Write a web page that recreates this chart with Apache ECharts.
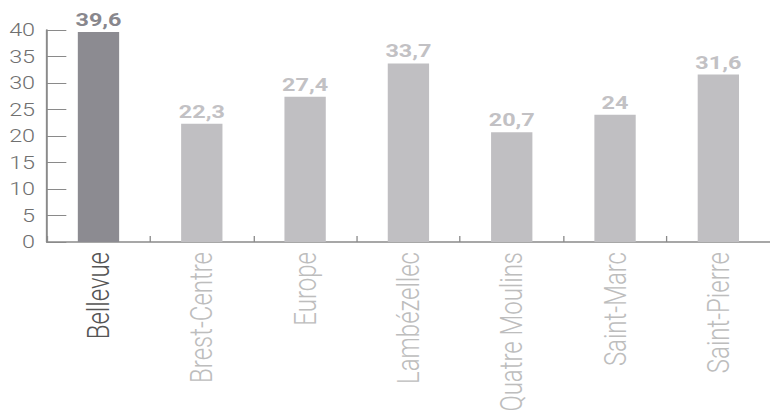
<!DOCTYPE html>
<html><head><meta charset="utf-8">
<script src="https://cdn.jsdelivr.net/npm/echarts@6/dist/echarts.min.js"></script>
<style>html,body{margin:0;padding:0;background:#fff;overflow:hidden}
#c{width:592px;height:416px;transform:scaleX(1.3007);transform-origin:0 0}</style>
</head><body><div id="c"></div>
<script>
const categories = ["Bellevue","Brest-Centre","Europe","Lambézellec","Quatre Moulins","Saint-Marc","Saint-Pierre"];
const values = [39.6,22.3,27.4,33.7,20.7,24,31.6];
const highlight = "Bellevue";

const chart = echarts.init(document.getElementById('c'), null, {renderer:'svg'});
const fmt = v => String(v).replace('.', ',');
chart.setOption({
  animation:false,
  grid:{left:36,right:-2.5,top:30,bottom:174,containLabel:false},
  xAxis:{
    type:'category', data:categories,
    axisLine:{lineStyle:{color:'#8a8a8a',width:1.5}},
    axisTick:{show:true,inside:true,length:6,lineStyle:{color:'#8a8a8a'}},
    axisLabel:{rotate:90,margin:10,fontFamily:'Roboto',fontWeight:300,fontSize:24,
      color:(v)=> v===highlight ? '#555555' : '#bdbdbd'}
  },
  yAxis:{
    type:'value', min:0, max:40, interval:5,
    axisLine:{show:true,lineStyle:{color:'#8a8a8a',width:1.5}},
    axisTick:{show:true,inside:true,length:15,lineStyle:{color:'#8a8a8a'}},
    splitLine:{show:false},
    axisLabel:{margin:9,fontFamily:'Roboto',fontWeight:300,fontSize:18,color:'#707070'}
  },
  series:[{
    type:'bar', barWidth:'40%',
    data: values.map((v,i)=>({value:v,
      itemStyle:{color: categories[i]===highlight ? '#8c8b91' : '#c0bfc2'},
      label:{color: categories[i]===highlight ? '#88878d' : '#c2c1c4'}})),
    label:{show:true,position:'top',distance:3,fontFamily:'Roboto',fontWeight:'bold',fontSize:18,
      formatter:p=>fmt(p.value)}
  }]
});
</script></body></html>
